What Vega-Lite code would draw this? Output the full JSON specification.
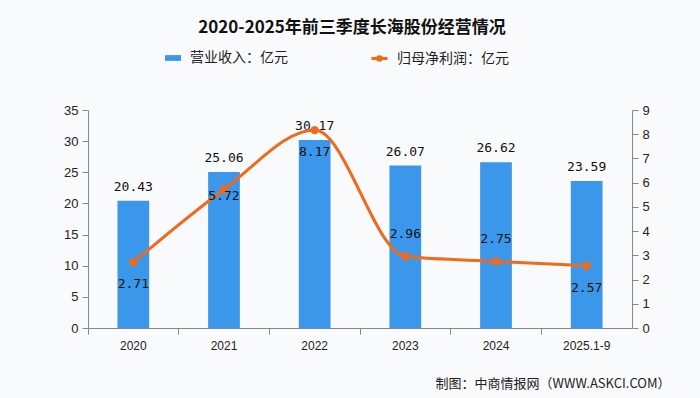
{
  "$schema": "https://vega.github.io/schema/vega-lite/v6.json",
  "width": 544,
  "height": 218,
  "autosize": {"type": "none"},
  "padding": {"left": 88, "top": 110, "right": 68, "bottom": 70},
  "background": "#f9fafc",
  "title": {
    "text": "2020-2025年前三季度长海股份经营情况",
    "font": "Noto Sans CJK SC",
    "fontSize": 17,
    "fontWeight": "bold",
    "color": "#111111",
    "anchor": "middle",
    "dx": -8,
    "offset": 12
  },
  "data": {
    "values": [
      {"year": "2020", "revenue": 20.43, "profit": 2.71},
      {"year": "2021", "revenue": 25.06, "profit": 5.72},
      {"year": "2022", "revenue": 30.17, "profit": 8.17},
      {"year": "2023", "revenue": 26.07, "profit": 2.96},
      {"year": "2024", "revenue": 26.62, "profit": 2.75},
      {"year": "2025.1-9", "revenue": 23.59, "profit": 2.57}
    ]
  },
  "encoding": {
    "x": {
      "field": "year",
      "type": "nominal",
      "sort": null,
      "scale": {"paddingInner": 0, "paddingOuter": 0},
      "axis": {
        "title": "制图：中商情报网（WWW.ASKCI.COM）",
        "titleFont": "Noto Sans CJK SC",
        "titleFontSize": 13,
        "titleFontWeight": "normal",
        "titleColor": "#222222",
        "titleAnchor": "end",
        "titleAlign": "right",
        "titleBaseline": "alphabetic",
        "titleX": 582,
        "titleY": 59,
        "labelAngle": 0,
        "labelFont": "Liberation Sans",
        "labelFontSize": 12,
        "labelColor": "#222222",
        "labelPadding": 6,
        "bandPosition": 0,
        "domainColor": "#888888",
        "tickColor": "#888888",
        "tickSize": 6,
        "grid": false
      }
    }
  },
  "layer": [
    {
      "layer": [
        {
          "mark": {"type": "bar", "width": {"band": 0.35}},
          "encoding": {
            "y": {
              "field": "revenue",
              "type": "quantitative",
              "scale": {"domain": [0, 35], "nice": false},
              "axis": {
                "orient": "left",
                "title": null,
                "values": [0, 5, 10, 15, 20, 25, 30, 35],
                "labelFont": "Liberation Sans",
                "labelFontSize": 13,
                "labelColor": "#222222",
                "domainColor": "#888888",
                "tickColor": "#888888",
                "tickSize": 6,
                "labelPadding": 4,
                "grid": false
              }
            },
            "color": {
              "datum": "营业收入：亿元",
              "type": "nominal",
              "scale": {"range": ["#3b97e9"]},
              "legend": {
                "orient": "none",
                "legendX": 76,
                "legendY": -61,
                "title": null,
                "symbolType": "M-1,-0.36H1V0.36H-1Z",
                "symbolSize": 256,
                "symbolOpacity": 1,
                "labelFont": "Noto Sans CJK SC",
                "labelFontSize": 14,
                "labelColor": "#222222",
                "labelOffset": 8
              }
            }
          }
        },
        {
          "mark": {"type": "text", "dy": -14, "font": "DejaVu Sans Mono", "fontSize": 13, "color": "#111111"},
          "encoding": {
            "y": {
              "field": "revenue",
              "type": "quantitative",
              "scale": {"domain": [0, 35], "nice": false},
              "axis": {
                "orient": "left",
                "title": null,
                "values": [0, 5, 10, 15, 20, 25, 30, 35],
                "labelFont": "Liberation Sans",
                "labelFontSize": 13,
                "labelColor": "#222222",
                "domainColor": "#888888",
                "tickColor": "#888888",
                "tickSize": 6,
                "labelPadding": 4,
                "grid": false
              }
            },
            "text": {"field": "revenue", "type": "quantitative", "format": ".2f"}
          }
        }
      ]
    },
    {
      "layer": [
        {
          "mark": {"type": "line", "interpolate": "monotone", "strokeWidth": 3},
          "encoding": {
            "y": {
              "field": "profit",
              "type": "quantitative",
              "scale": {"domain": [0, 9], "nice": false},
              "axis": {
                "orient": "right",
                "title": null,
                "values": [0, 1, 2, 3, 4, 5, 6, 7, 8, 9],
                "labelFont": "Liberation Sans",
                "labelFontSize": 13,
                "labelColor": "#222222",
                "domainColor": "#888888",
                "tickColor": "#888888",
                "tickSize": 6,
                "labelPadding": 4,
                "grid": false
              }
            },
            "stroke": {
              "datum": "归母净利润：亿元",
              "type": "nominal",
              "scale": {"range": ["#ee6a1c"]},
              "legend": {
                "orient": "none",
                "legendX": 282,
                "legendY": -61,
                "title": null,
                "symbolType": "M-1,0H1M0.22,0A0.22,0.22,0,1,1,-0.22,0A0.22,0.22,0,1,1,0.22,0",
                "symbolSize": 256,
                "symbolStrokeWidth": 3,
                "symbolFillColor": "#ee6a1c",
                "labelFont": "Noto Sans CJK SC",
                "labelFontSize": 14,
                "labelColor": "#222222",
                "labelOffset": 8
              }
            }
          }
        },
        {
          "mark": {"type": "point", "filled": true, "size": 70, "color": "#ee6a1c", "opacity": 1},
          "encoding": {
            "y": {
              "field": "profit",
              "type": "quantitative",
              "scale": {"domain": [0, 9], "nice": false},
              "axis": {
                "orient": "right",
                "title": null,
                "values": [0, 1, 2, 3, 4, 5, 6, 7, 8, 9],
                "labelFont": "Liberation Sans",
                "labelFontSize": 13,
                "labelColor": "#222222",
                "domainColor": "#888888",
                "tickColor": "#888888",
                "tickSize": 6,
                "labelPadding": 4,
                "grid": false
              }
            }
          }
        },
        {
          "transform": [{"filter": "indexof(['2020','2022','2025.1-9'], datum.year) >= 0"}],
          "mark": {"type": "text", "dy": 22, "font": "DejaVu Sans Mono", "fontSize": 13, "color": "#111111"},
          "encoding": {
            "y": {
              "field": "profit",
              "type": "quantitative",
              "scale": {"domain": [0, 9], "nice": false},
              "axis": {
                "orient": "right",
                "title": null,
                "values": [0, 1, 2, 3, 4, 5, 6, 7, 8, 9],
                "labelFont": "Liberation Sans",
                "labelFontSize": 13,
                "labelColor": "#222222",
                "domainColor": "#888888",
                "tickColor": "#888888",
                "tickSize": 6,
                "labelPadding": 4,
                "grid": false
              }
            },
            "text": {"field": "profit", "type": "quantitative", "format": ".2f"}
          }
        },
        {
          "transform": [{"filter": "datum.year == '2021'"}],
          "mark": {"type": "text", "dy": 7, "font": "DejaVu Sans Mono", "fontSize": 13, "color": "#111111"},
          "encoding": {
            "y": {
              "field": "profit",
              "type": "quantitative",
              "scale": {"domain": [0, 9], "nice": false},
              "axis": {
                "orient": "right",
                "title": null,
                "values": [0, 1, 2, 3, 4, 5, 6, 7, 8, 9],
                "labelFont": "Liberation Sans",
                "labelFontSize": 13,
                "labelColor": "#222222",
                "domainColor": "#888888",
                "tickColor": "#888888",
                "tickSize": 6,
                "labelPadding": 4,
                "grid": false
              }
            },
            "text": {"field": "profit", "type": "quantitative", "format": ".2f"}
          }
        },
        {
          "transform": [{"filter": "indexof(['2023','2024'], datum.year) >= 0"}],
          "mark": {"type": "text", "dy": -22, "font": "DejaVu Sans Mono", "fontSize": 13, "color": "#111111"},
          "encoding": {
            "y": {
              "field": "profit",
              "type": "quantitative",
              "scale": {"domain": [0, 9], "nice": false},
              "axis": {
                "orient": "right",
                "title": null,
                "values": [0, 1, 2, 3, 4, 5, 6, 7, 8, 9],
                "labelFont": "Liberation Sans",
                "labelFontSize": 13,
                "labelColor": "#222222",
                "domainColor": "#888888",
                "tickColor": "#888888",
                "tickSize": 6,
                "labelPadding": 4,
                "grid": false
              }
            },
            "text": {"field": "profit", "type": "quantitative", "format": ".2f"}
          }
        }
      ]
    }
  ],
  "resolve": {"scale": {"y": "independent"}},
  "config": {"view": {"stroke": null}}
}
